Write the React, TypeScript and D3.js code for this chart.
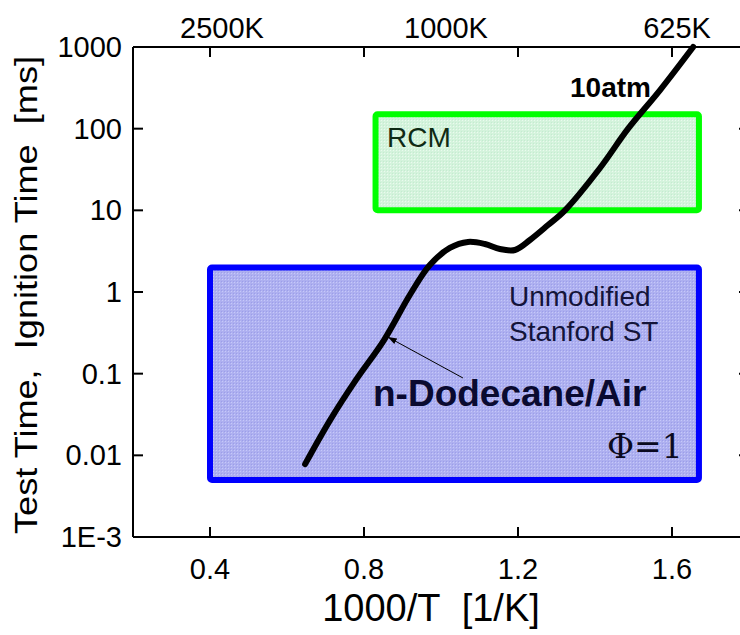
import { useMemo } from 'react';
import * as d3 from 'd3';

// ignition delay curve, n-dodecane/air, 10 atm
const curveX = [0.647, 0.712, 0.78, 0.852, 0.919, 0.971, 1.023, 1.07, 1.114, 1.153, 1.192, 1.231, 1.278, 1.322, 1.413, 1.486, 1.569, 1.655];
const curveY = [0.0078, 0.027, 0.085, 0.258, 0.92, 2.14, 3.46, 4.1, 3.87, 3.36, 3.27, 4.33, 6.6, 10, 33, 100, 297, 1000];

// test-time windows of the two facilities
const rcmBox = { x0: 0.83, x1: 1.67, y0: 10, y1: 150 };
const stBox = { x0: 0.4, x1: 1.67, y0: 0.005, y1: 2 };

const xTicks = [0.4, 0.8, 1.2, 1.6];
const xTickLabels = ['0.4', '0.8', '1.2', '1.6'];
const yTicks = [1000, 100, 10, 1, 0.1, 0.01, 0.001];
const yTickLabels = ['1000', '100', '10', '1', '0.1', '0.01', '1E-3'];
const topTemps = [2500, 1000, 625];
const topLabels = ['2500K', '1000K', '625K'];

const W = 740;
const H = 635;
const margin = { top: 47, right: -9, bottom: 98, left: 133 };
const font = 'Arial, "Liberation Sans", Helvetica, sans-serif';

const App = () => {
  const x = useMemo(() => d3.scaleLinear().domain([0.2, 1.8]).range([margin.left, W - margin.right]), []);
  const y = useMemo(() => d3.scaleLog().domain([1e-3, 1000]).range([H - margin.bottom, margin.top]), []);

  const line = d3.line<number>()
    .x((d, i) => x(curveX[i]))
    .y((d, i) => y(curveY[i]))
    .curve(d3.curveCatmullRom.alpha(0.5));

  const x0 = margin.left, x1 = W - margin.right;
  const yTop = margin.top, yBot = H - margin.bottom;
  const tick = 10;

  // arrow from the label to the curve
  const arrowFrom = [1.057, 0.0885];
  const arrowTo = [0.862, 0.281];

  return (
    <div>
      <style>{`body{margin:0}`}</style>
      <svg width={W} height={H} style={{ display: 'block', background: '#fff' }}>
        <defs>
          <pattern id="bluePat" width="3" height="3" patternUnits="userSpaceOnUse">
            <rect width="3" height="3" fill="#aeb0f0" />
            <rect width="1" height="1" fill="#c6c8fa" />
            <rect x="2" y="2" width="1" height="1" fill="#9c9eea" />
          </pattern>
          <pattern id="greenPat" width="3" height="3" patternUnits="userSpaceOnUse">
            <rect width="3" height="3" fill="#d4f3dc" />
            <rect width="1" height="1" fill="#eafbee" />
            <rect x="2" y="2" width="1" height="1" fill="#c4ecd0" />
          </pattern>
          <marker id="arrow" viewBox="0 0 10 10" refX="10" refY="5" markerWidth="9" markerHeight="9" orient="auto">
            <path d="M0,1.5 L10,5 L0,8.5 Z" fill="#000" />
          </marker>
        </defs>

        {/* RCM window */}
        <rect x={x(rcmBox.x0)} y={y(rcmBox.y1)} width={x(rcmBox.x1) - x(rcmBox.x0)} height={y(rcmBox.y0) - y(rcmBox.y1)}
          fill="url(#greenPat)" stroke="#00ff00" strokeWidth={6} rx={2} />
        {/* shock tube window */}
        <rect x={x(stBox.x0)} y={y(stBox.y1)} width={x(stBox.x1) - x(stBox.x0)} height={y(stBox.y0) - y(stBox.y1)}
          fill="url(#bluePat)" stroke="#0000ff" strokeWidth={6} rx={2} />

        <text x={387} y={147} fontFamily={font} fontSize={28} fill="#0f2a14">RCM</text>
        <text x={509} y={y(stBox.y1) + 39} fontFamily={font} fontSize={28} fill="#14143a">Unmodified</text>
        <text x={509} y={y(stBox.y1) + 74} fontFamily={font} fontSize={28} fill="#14143a">Stanford ST</text>
        <text x={373} y={406} fontFamily={font} fontSize={37} fontWeight="bold" fill="#0a0a30">n-Dodecane/Air</text>
        <text x={607} y={458} fontFamily={'"DejaVu Serif", serif'} fontSize={33} fill="#0a0a20">Φ=1</text>

        {/* curve */}
        <path d={line(curveX) ?? ''} fill="none" stroke="#000" strokeWidth={6} strokeLinecap="round" />
        <line x1={x(arrowFrom[0])} y1={y(arrowFrom[1])} x2={x(arrowTo[0])} y2={y(arrowTo[1])}
          stroke="#000" strokeWidth={1} markerEnd="url(#arrow)" />
        <text x={570} y={97} fontFamily={font} fontSize={28} fontWeight="bold" fill="#000">10atm</text>

        {/* frame */}
        <g stroke="#000" strokeWidth={2} fill="none">
          <line x1={x0} y1={yTop} x2={x1} y2={yTop} />
          <line x1={x0} y1={yBot} x2={x1} y2={yBot} />
          <line x1={x0} y1={yTop} x2={x0} y2={yBot} />
          <line x1={x1} y1={yTop} x2={x1} y2={yBot} />
          {xTicks.map(t => (
            <g key={t}>
              <line x1={x(t)} y1={yBot} x2={x(t)} y2={yBot - tick} />
              <line x1={x(t)} y1={yTop} x2={x(t)} y2={yTop + tick} />
            </g>
          ))}
          {yTicks.map(t => (
            <g key={t}>
              <line x1={x0} y1={y(t)} x2={x0 + tick} y2={y(t)} />
              <line x1={x1} y1={y(t)} x2={x1 - tick} y2={y(t)} />
            </g>
          ))}
        </g>

        {/* tick labels */}
        <g fontFamily={font} fontSize={29} fill="#000">
          {xTicks.map((t, i) => (
            <text key={t} x={x(t)} y={yBot + 42} textAnchor="middle">{xTickLabels[i]}</text>
          ))}
          {yTicks.map((t, i) => (
            <text key={t} x={x0 - 11} y={y(t) + 10} textAnchor="end">{yTickLabels[i]}</text>
          ))}
          {topTemps.map((T, i) => (
            <text key={T} x={x(1000 / T) + (i === 0 ? 12 : 5)} y={yTop - 9} textAnchor="middle">{topLabels[i]}</text>
          ))}
        </g>

        {/* axis titles */}
        <text x={431} y={H - 14} textAnchor="middle" fontFamily={font} fontSize={38} fill="#000">
          1000/T{'\u00a0\u00a0'}[1/K]
        </text>
        <text transform={`translate(37, 295) rotate(-90)`} textAnchor="middle" fontFamily={font} fontSize={31}
          textLength={478} lengthAdjust="spacingAndGlyphs" fill="#000">
          Test Time,{'\u00a0\u00a0'}Ignition Time{'\u00a0\u00a0'}[ms]
        </text>
      </svg>
    </div>
  );
};

export default App;
